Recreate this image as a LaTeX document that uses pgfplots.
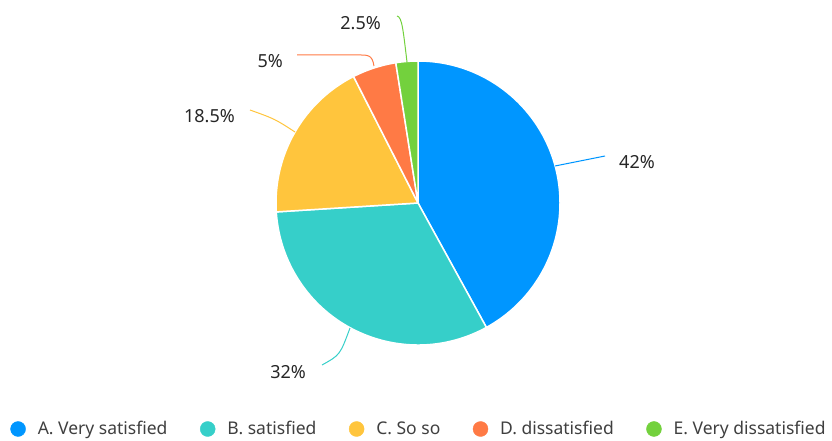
\documentclass[border=0pt]{standalone}
\usepackage{pgfplots}
\pgfplotsset{compat=1.18}
\usepackage{fontspec}
\setmainfont{Noto Sans}

\definecolor{cA}{HTML}{0096FF}
\definecolor{cB}{HTML}{36CFC9}
\definecolor{cC}{HTML}{FFC53D}
\definecolor{cD}{HTML}{FF7A45}
\definecolor{cE}{HTML}{73D13D}
\definecolor{labtext}{HTML}{262626}
\definecolor{legtext}{HTML}{3F3F3F}

\begin{document}
\begin{tikzpicture}
\useasboundingbox (0,0) rectangle (832pt,441pt);
\begin{axis}[
    x=1pt, y=1pt,
    xmin=0, xmax=832, ymin=0, ymax=441,
    hide axis, clip=false,
    legend columns=5,
    legend image code/.code={\fill[#1] (7.5pt,0pt) circle (7.5pt);},
    legend style={at={(axis cs:419,12)}, anchor=center, draw=none, fill=none,
        inner sep=0pt, font=\fontsize{17.5}{20}\selectfont, text=legtext,
        /tikz/every odd column/.append style={column sep=10pt},
        /tikz/every even column/.append style={column sep=30.5pt}},
]
\addlegendimage{cA}\addlegendentry{A. Very satisfied}
\addlegendimage{cB}\addlegendentry{B. satisfied}
\addlegendimage{cC}\addlegendentry{C. So so}
\addlegendimage{cD}\addlegendentry{D. dissatisfied}
\addlegendimage{cE}\addlegendentry{E. Very dissatisfied}

% slices, clockwise from the top
\pgfmathsetmacro\start{90}
\foreach \v/\c in {42/cA, 32/cB, 18.5/cC, 5/cD, 2.5/cE}{
  \pgfmathsetmacro\endang{\start-3.6*\v}
  \edef\temp{\noexpand\fill[\c, draw=white, line width=1.5pt, line join=round]
    (axis cs:418,238) -- ++(\start:142pt)
    arc[start angle=\start, end angle=\endang, radius=142pt] -- cycle;}
  \temp
  \global\let\start\endang
}

% leader lines
\draw[cA, line width=1pt] (axis cs:555,275) -- (axis cs:605,285);
\draw[cB, line width=1pt] (axis cs:350,113) .. controls (axis cs:340,86) .. (axis cs:322,76);
\draw[cC, line width=1pt] (axis cs:295,309) .. controls (axis cs:275,322) .. (axis cs:250,331);
\draw[cD, line width=1pt] (axis cs:374,375) .. controls (axis cs:372,387) and (axis cs:368,386) .. (axis cs:355,386) -- (axis cs:297,386);
\draw[cE, line width=1pt] (axis cs:407,379) .. controls (axis cs:403,412) and (axis cs:402,424) .. (axis cs:397,425);

% value labels
\begin{scope}[every node/.style={font=\fontsize{18}{21}\selectfont, text=labtext, inner sep=0pt}]
\node[anchor=west] at (axis cs:619,279) {42\%};
\node[anchor=east] at (axis cs:306,69) {32\%};
\node[anchor=east] at (axis cs:235,325) {18.5\%};
\node[anchor=east] at (axis cs:283,380) {5\%};
\node[anchor=east] at (axis cs:381,418) {2.5\%};
\end{scope}
\end{axis}
\end{tikzpicture}
\end{document}
